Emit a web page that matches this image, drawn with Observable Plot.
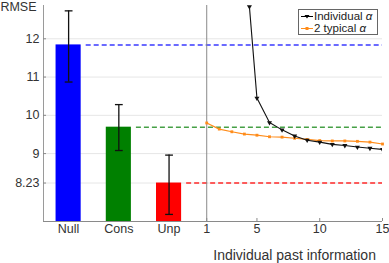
<!DOCTYPE html>
<html><head><meta charset="utf-8">
<script src="https://cdn.jsdelivr.net/npm/d3@7"></script>
<script src="https://cdn.jsdelivr.net/npm/@observablehq/plot@0.6"></script>
<style>
body{margin:0;background:#fff;font-family:"Liberation Sans",Arial,sans-serif;}
#wrap{position:relative;width:389px;height:263px;}
#legend{position:absolute;left:298px;top:9px;width:80px;height:26px;border:1px solid #666;background:#fff;font-size:11.5px;color:#222;box-sizing:border-box;}
#legend .row{position:absolute;left:0;height:13px;line-height:13px;white-space:nowrap;}
#legend svg{position:absolute;left:1px;top:0;}
#legend span{position:absolute;left:15px;top:0;}
</style></head><body>
<div id="wrap"><div id="legend">
<div class="row" style="top:0px;"><svg width="14" height="13"><line x1="1" y1="6.5" x2="13" y2="6.5" stroke="#000" stroke-width="1"/><path d="M4.5,5 L9.5,5 L7,8.5 Z" fill="#000"/></svg><span>Individual <i>α</i></span></div>
<div class="row" style="top:12px;"><svg width="14" height="13"><line x1="1" y1="6.5" x2="13" y2="6.5" stroke="#ff8c1a" stroke-width="1"/><rect x="5.5" y="5" width="3" height="3" fill="#ff8c1a"/></svg><span>2 typical <i>α</i></span></div>
</div></div>
<script>
// Bar panel
const categories = ["Null", "Cons", "Unp"];
const barPos = [-10, -6, -2];
const barValues = [11.84, 9.69, 8.23];
const errLow = [10.87, 9.08, 7.41];
const errHigh = [12.73, 10.28, 8.96];
const barColors = ["#0000ff", "#008000", "#ff0000"];
const dashColors = ["#3a3aff", "#46a046", "#ff2a2a"];
const dashStart = [-8.6, -4.6, -0.6];

// Line panel
const indivX = [4.4, 5, 6, 7, 8, 9, 10, 11, 12, 13, 14, 15];
const indivY = [12.84, 10.45, 9.81, 9.62, 9.46, 9.35, 9.30, 9.24, 9.21, 9.17, 9.14, 9.11];
const typX = [1, 2, 3, 4, 5, 6, 7, 8, 9, 10, 11, 12, 13, 14, 15];
const typY = [9.80, 9.64, 9.57, 9.51, 9.48, 9.44, 9.43, 9.40, 9.37, 9.34, 9.33, 9.33, 9.32, 9.30, 9.25];

const yTicks = [8.23, 9, 10, 11, 12];
const xTicksRight = [1, 5, 10, 15];
const xTickLabels = ["Null", "Cons", "Unp", "1", "5", "10", "15"];
const xTickPos = [...barPos, ...xTicksRight];

const yDomain = [7.225, 12.87];
const xDomain = [-12, 15];
const W = 389, H = 263, mL = 43, mR = 7, mT = 5, mB = 42;
const frameH = H - mT - mB, frameW = W - mL - mR;

const bars = categories.map((c, i) => ({c, x1: barPos[i] - 1, x2: barPos[i] + 1, x: barPos[i], v: barValues[i], lo: errLow[i], hi: errHigh[i], color: barColors[i], dash: dashColors[i], ds: dashStart[i]}));
const indiv = indivX.map((x, i) => ({x, y: indivY[i]}));
const typ = typX.map((x, i) => ({x, y: typY[i]}));

const capSymbol = {draw(ctx, size) { const w = Math.sqrt(size); ctx.moveTo(-w, 0); ctx.lineTo(w, 0); }};

const chart = Plot.plot({
  width: W, height: H,
  marginLeft: mL, marginRight: mR, marginTop: mT, marginBottom: mB,
  style: {fontFamily: "Liberation Sans, Arial, sans-serif", fontSize: "12.5px", color: "#333", background: "#fff", overflow: "visible"},
  x: {domain: xDomain, axis: null},
  y: {domain: yDomain, axis: null},
  marks: [
    Plot.ruleY(yTicks, {stroke: "#e6e6e6", strokeWidth: 1}),
    Plot.rect(bars, {x1: "x1", x2: "x2", y1: yDomain[0], y2: "v", fill: "color"}),
    Plot.ruleY(bars, {y: "v", x1: "ds", x2: xDomain[1], stroke: "dash", strokeWidth: 1.5, strokeDasharray: "5,3"}),
    Plot.ruleX(bars, {x: "x", y1: "lo", y2: "hi", stroke: "#111", strokeWidth: 1.3}),
    Plot.dot(bars, {x: "x", y: "lo", symbol: capSymbol, r: 2.2, stroke: "#111", strokeWidth: 1.3}),
    Plot.dot(bars, {x: "x", y: "hi", symbol: capSymbol, r: 2.2, stroke: "#111", strokeWidth: 1.3}),
    Plot.ruleX([xDomain[0]], {stroke: "#9a9a9a", strokeWidth: 1}),
    Plot.ruleX([1], {stroke: "#8a8a8a", strokeWidth: 1}),
    Plot.ruleY([yDomain[0]], {stroke: "#8a8a8a", strokeWidth: 1}),
    Plot.ruleY(yTicks, {insetRight: frameW - 3, stroke: "#8a8a8a"}),
    Plot.ruleX(xTicksRight, {insetTop: frameH - 3, stroke: "#8a8a8a"}),
    Plot.line(typ, {x: "x", y: "y", stroke: "#ff8c1a", strokeWidth: 1.2}),
    Plot.dot(typ, {x: "x", y: "y", symbol: "square2", r: 1.8, fill: "#ff8c1a"}),
    Plot.line(indiv, {x: "x", y: "y", stroke: "#111", strokeWidth: 1.1, clip: true}),
    Plot.dot(indiv, {x: "x", y: "y", symbol: "triangle2", rotate: 180, r: 2.4, fill: "#111", clip: true}),
    Plot.axisY(yTicks, {tickSize: 0, tickPadding: 4, tickFormat: d => String(d), fontSize: 12.5, fill: "#333"}),
    Plot.axisX(xTickPos, {tickSize: 0, tickPadding: 3, tickFormat: (d, i) => xTickLabels[i], fontSize: 12.5, fill: "#333"}),
    Plot.text(["Individual past information"], {x: 8, frameAnchor: "bottom", dy: 34, lineAnchor: "middle", fontSize: 14, fill: "#333"}),
    Plot.text(["RMSE"], {frameAnchor: "top-left", dx: -7, dy: 1.5, textAnchor: "end", lineAnchor: "middle", fontSize: 12.5, fill: "#333"})
  ]
});
document.getElementById("wrap").prepend(chart);
chart.style.position = "absolute"; chart.style.left = "0"; chart.style.top = "0";
</script>
</body></html>
